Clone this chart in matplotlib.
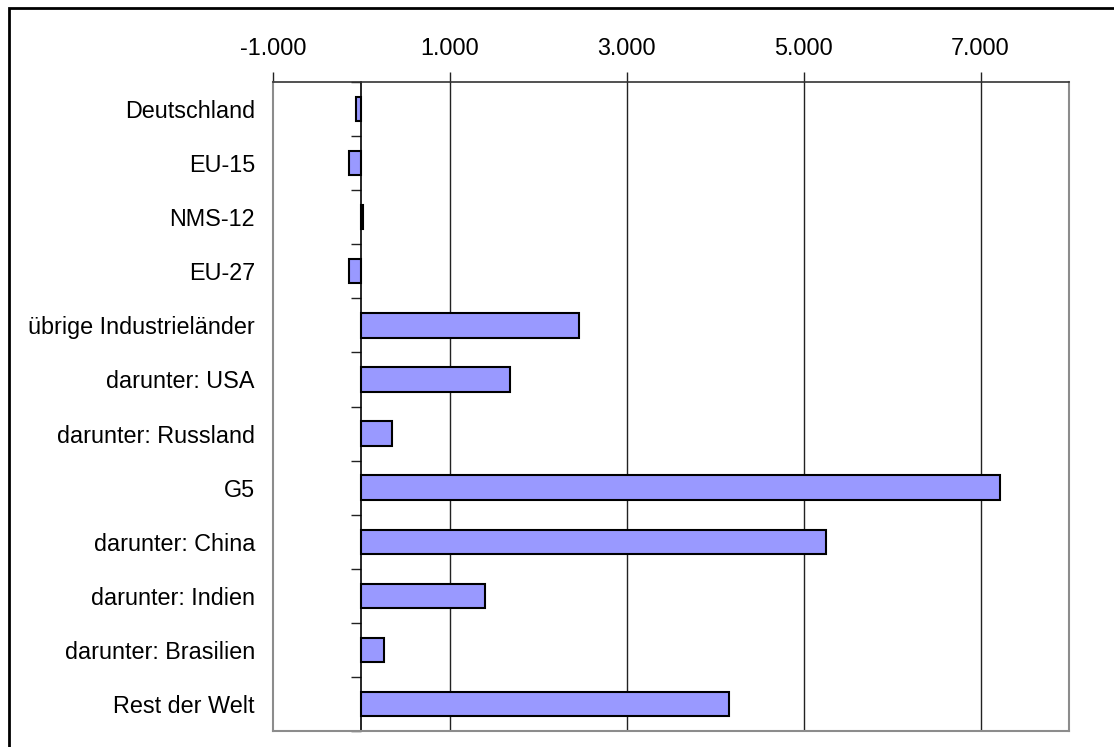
import matplotlib
matplotlib.use("Agg")
import matplotlib.pyplot as plt
from matplotlib.ticker import FuncFormatter, FixedLocator
from matplotlib.patches import Rectangle

plt.rcParams['font.family'] = ['Liberation Sans', 'DejaVu Sans']

categories = [
    "Deutschland", "EU-15", "NMS-12", "EU-27",
    "übrige Industrieländer", "darunter: USA", "darunter: Russland",
    "G5", "darunter: China", "darunter: Indien", "darunter: Brasilien",
    "Rest der Welt",
]
values = [-66, -141, 20, -141, 2460, 1675, 348, 7215, 5249, 1395, 254, 4153]
x_ticks = [-1000, 1000, 3000, 5000, 7000]
x_limits = (-1000, 8000)

W, H = 1114, 747
fig = plt.figure(figsize=(W / 100, H / 100), dpi=100)
ax = fig.add_axes([273 / W, 1 - 731 / H, (1069 - 273) / W, (731 - 82) / H])

n = len(categories)
ypos = list(range(n))
ax.barh(ypos, values, height=0.45, color="#9999FF", edgecolor="black",
        linewidth=1.5, zorder=3)

ax.set_xlim(*x_limits)
ax.set_ylim(n - 0.5, -0.5)

# value axis on top, German thousands separator
ax.xaxis.set_ticks_position("top")
ax.xaxis.set_major_locator(FixedLocator(x_ticks))
ax.xaxis.set_major_formatter(
    FuncFormatter(lambda v, p: f"{v:,.0f}".replace(",", ".")))
ax.tick_params(axis="x", direction="out", length=7, width=1, color="#222222",
               labelsize=16.8, pad=9)
for v in x_ticks[1:]:
    ax.axvline(v, color="#222222", linewidth=1, zorder=1)

# category labels at the left edge of the plot
ax.set_yticks(ypos)
ax.set_yticklabels(categories)
ax.tick_params(axis="y", length=0, labelsize=16.8, pad=13)

for side in ("left", "right", "bottom"):
    ax.spines[side].set_color("#8c8c8c")
    ax.spines[side].set_linewidth(1.5)
ax.spines["top"].set_color("#333333")
ax.spines["top"].set_linewidth(1.2)

# category axis crossing at zero with ticks between categories
zero_frac = (0 - x_limits[0]) / (x_limits[1] - x_limits[0])
sec = ax.secondary_yaxis(zero_frac)
sec.set_yticks([i + 0.5 for i in range(-1, n)])
sec.set_yticklabels([])
sec.tick_params(axis="y", direction="out", length=7, width=1, color="#222222")
sec.spines["left"].set_color("black")
sec.spines["left"].set_linewidth(1.2)

# outer chart frame
fig.patches.append(Rectangle((8.5 / W, -0.1), 1.2, 1 - 7.5 / H + 0.1,
                             transform=fig.transFigure, fill=False,
                             edgecolor="black", linewidth=2))

fig.savefig("out.png", dpi=100)
